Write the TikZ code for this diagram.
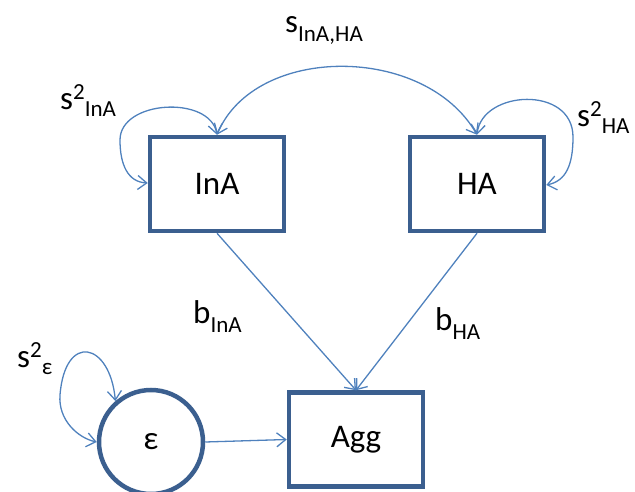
\documentclass[tikz,border=0pt]{standalone}
\usepackage{fontspec}
\setmainfont{Carlito}
\usetikzlibrary{arrows.meta}
\newcommand{\fsz}[1]{\fontsize{#1}{#1}\selectfont}
\definecolor{conn}{HTML}{4F81BD}
\definecolor{border}{HTML}{3B5F8F}
\tikzset{
  boxnode/.style={draw=border, line width=4.5pt, fill=white, minimum width=134pt, minimum height=94pt, inner sep=0pt, font=\fsz{33}},
  circnode/.style={draw=border, line width=4.5pt, fill=white, circle, minimum size=104pt, inner sep=0pt, font=\fsz{33}},
  conn/.style={draw=conn, line width=1.3pt, -{Straight Barb[length=9pt,width=14pt]}},
  dconn/.style={draw=conn, line width=1.3pt, {Straight Barb[length=9pt,width=14pt]}-{Straight Barb[length=9pt,width=14pt]}},
  lab/.style={anchor=base west, inner sep=0pt, font=\fsz{33}}
}
\begin{document}
\begin{tikzpicture}[x=1pt,y=-1pt]
\useasboundingbox (0,0) rectangle (635,492);
\node[boxnode] (ina) at (217,184) {InA};
\node[boxnode] (ha) at (477,184) {HA};
\node[boxnode] (agg) at (356,439.5) {Agg};
\node[circnode] (eps) at (151,442) {ε};
% regressions
\draw[conn] (ina.south) -- (agg.north);
\draw[conn] (ha.south) -- (agg.north);
\draw[conn] (eps.east) -- (agg.west);
% covariance
\draw[dconn] (ina.north) .. controls (255,44) and (425,44) .. (ha.north);
% variances
\coordinate (inal) at (120,140);
\coordinate (har) at (573,137);
\coordinate (epsl) at (60,395);
\draw[dconn] (ina.north) .. controls (210,95) and (120,100) .. (inal)
  .. controls (120,165) and (128,182) .. ([yshift=1pt]ina.west);
\draw[dconn] (ha.north) .. controls (482,90) and (573,85) .. (har)
  .. controls (573,165) and (566,181) .. ([yshift=-1pt]ha.east);
\draw[dconn] (eps.131) .. controls (110,342) and (65,332) .. (epsl)
  .. controls (58,420) and (78,438) .. (eps.west);
% labels
\node[lab] (l1) at (285,33) {s\raisebox{-9pt}{\fsz{23}InA,HA}};
\node[lab] (l2) at (60,110) {s\raisebox{10pt}{\fsz{23}2}\raisebox{-7pt}{\fsz{23}InA}};
\node[lab] (l3) at (577,127) {s\raisebox{10pt}{\fsz{23}2}\raisebox{-7pt}{\fsz{23}HA}};
\node[lab] (l4) at (193,323) {b\raisebox{-9pt}{\fsz{23}InA}};
\node[lab] (l5) at (435,330) {b\raisebox{-9pt}{\fsz{23}HA}};
\node[lab] (l6) at (17,367) {s\raisebox{10pt}{\fsz{23}2}\raisebox{-7pt}{\fsz{23}ε}};
\end{tikzpicture}
\end{document}
